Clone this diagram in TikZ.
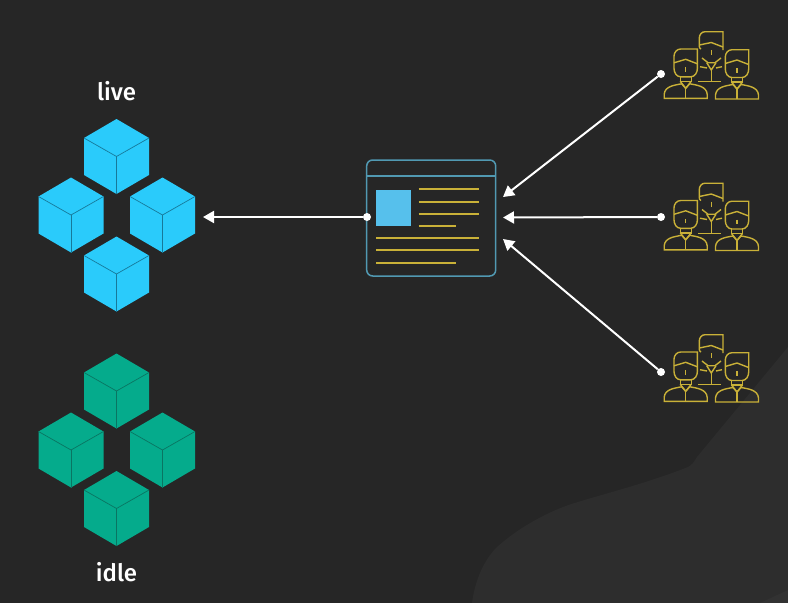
\documentclass[tikz,border=0pt]{standalone}
\usepackage{fontspec}
\setmainfont{Fira Sans Medium}
\usetikzlibrary{arrows.meta}
\definecolor{bgdark}{HTML}{262626}
\definecolor{bgblob}{HTML}{2D2D2D}
\definecolor{bgblobb}{HTML}{323232}
\definecolor{goldline}{HTML}{C9B138}
\definecolor{docline}{HTML}{5199B2}
\definecolor{docsquare}{HTML}{56C0EC}
\definecolor{cubelive}{HTML}{2ACBFB}
\definecolor{cubeliveedge}{HTML}{17799A}
\definecolor{cubeidle}{HTML}{05AB8C}
\definecolor{cubeidleedge}{HTML}{0A7562}
\tikzset{
  cube/.pic={
    \fill[pic actions] (0,-37.5) -- (32.5,-18.5) -- (32.5,18.5) -- (0,37.5) -- (-32.5,18.5) -- (-32.5,-18.5) -- cycle;
    \draw[line width=.7pt,draw=#1] (-32.5,-18.5) -- (0,0) -- (32.5,-18.5);
    \draw[line width=.7pt,draw=#1] (0,0) -- (0,37.5);
  },
  person/.pic={
    \draw (11.7,-24.3) -- (-5,-24.3) to[out=180,in=90] (-11.7,-17) -- (-11.7,-5) to[out=-90,in=180] (-5,3.5) -- (5,3.5) to[out=0,in=-90] (11.7,-5) -- cycle;
    \draw (-11.7,-10.5) -- (0,-14) -- (11.7,-9.5);
    \draw (0,-6) -- (0,-1.5);
    \draw (-5.5,3.5) -- (-5.5,8) -- (5.5,8) -- (5.5,3.5);
    \draw (-5.5,8) -- (0,15) -- (5.5,8);
    \draw (-21.5,25) -- (-21.5,21) to[out=85,in=190] (-4,10.5) -- (0,15) -- (4,10.5) to[out=-10,in=95] (21.5,21) -- (21.5,25) -- cycle;
    \draw (0,15) -- (0,25);
  },
  crowd/.pic={
    \begin{scope}[draw=goldline,line width=1.4pt]
      \pic at (35.7,53.3) {person};
      \pic at (87,54) {person};
      \draw (73,30) -- (73,11.7) -- (55,11.7) to[out=180,in=90] (49.3,18) -- (49.3,25) to[out=-90,in=180] (51,29);
      \draw (49.3,25) -- (61.3,22.5) -- (73,27);
      \draw (61.3,30) -- (61.3,35);
      \draw (52,38) -- (58,42.7) -- (65,42.7) -- (71,38);
      \draw (56.7,42.7) -- (61.3,50) -- (66,42.7);
      \draw (50,46.7) -- (57,48) (66,48) -- (72,46.7);
      \draw (61.3,50) -- (61.3,61.7);
      \draw (48.3,61.7) -- (71,61.7);
    \end{scope}
  },
  dot/.style={circle,fill=white,inner sep=0pt,minimum size=8pt},
  link/.style={draw=white,line width=2pt,-{Triangle[length=11pt,width=12pt]}},
  textline/.style={draw=goldline,line width=1.5pt},
  label/.style={text=white,font=\fontsize{24}{24}\selectfont},
}
\begin{document}
\begin{tikzpicture}[x=1pt,y=-1pt]
  \fill[bgdark] (0,0) rectangle (788,603);
  \fill[bgblob] (788,347) -- (697,457) .. controls (694,462) and (692,465) .. (688,467)
    .. controls (640,486) and (590,497) .. (563,507)
    .. controls (540,516) and (516,530) .. (497,547)
    .. controls (484,560) and (475,580) .. (472,603)
    -- (788,603) -- cycle;
  \fill[bgblobb] (760,603) -- (788,590) -- (788,603) -- cycle;

  % clusters
  \foreach \cx/\cy in {116.5/156.5,71/215,162.5/215,116.5/274}
    \pic[fill=cubelive] at (\cx,\cy) {cube=cubeliveedge};
  \foreach \cx/\cy in {116.5/391,71/450,162.5/450,116.5/508.5}
    \pic[fill=cubeidle] at (\cx,\cy) {cube=cubeidleedge};
  \node[label] (livelabel) at (116.5,91) {live};
  \node[label] (idlelabel) at (116.5,572) {idle};

  % page
  \node[draw=docline,line width=1.5pt,rounded corners=6pt,minimum width=129pt,minimum height=116pt,inner sep=0pt] (doc) at (431.2,218) {};
  \draw[draw=docline,line width=1.5pt] (doc.west |- 0,176) -- (doc.east |- 0,176);
  \node[fill=docsquare,minimum width=35pt,minimum height=36pt,inner sep=0pt] (thumb) at (393.5,208) {};
  \foreach \ly/\lx in {189/479,202/479,214/479,226/455.5}
    \draw[textline] (418.5,\ly) -- (\lx,\ly);
  \foreach \ly/\lx in {238/479,250/479,263/455.5}
    \draw[textline] (376,\ly) -- (\lx,\ly);

  % crowds
  \pic at (650,20) {crowd};
  \pic at (650,171.5) {crowd};
  \pic at (650,323) {crowd};

  % connectors
  \node[dot] (usera) at (661,74) {};
  \node[dot] (userb) at (661,217) {};
  \node[dot] (userc) at (661,372) {};
  \node[dot] (docdot) at (367,217) {};
  \coordinate (ina) at (503,197);
  \coordinate (inb) at (503,217.5);
  \coordinate (inc) at (503,239);
  \coordinate (liveend) at (203,217);
  \draw[link] (usera) -- (ina);
  \draw[link] (userb) -- (inb);
  \draw[link] (userc) -- (inc);
  \draw[link] (docdot) -- (liveend);
\end{tikzpicture}
\end{document}
